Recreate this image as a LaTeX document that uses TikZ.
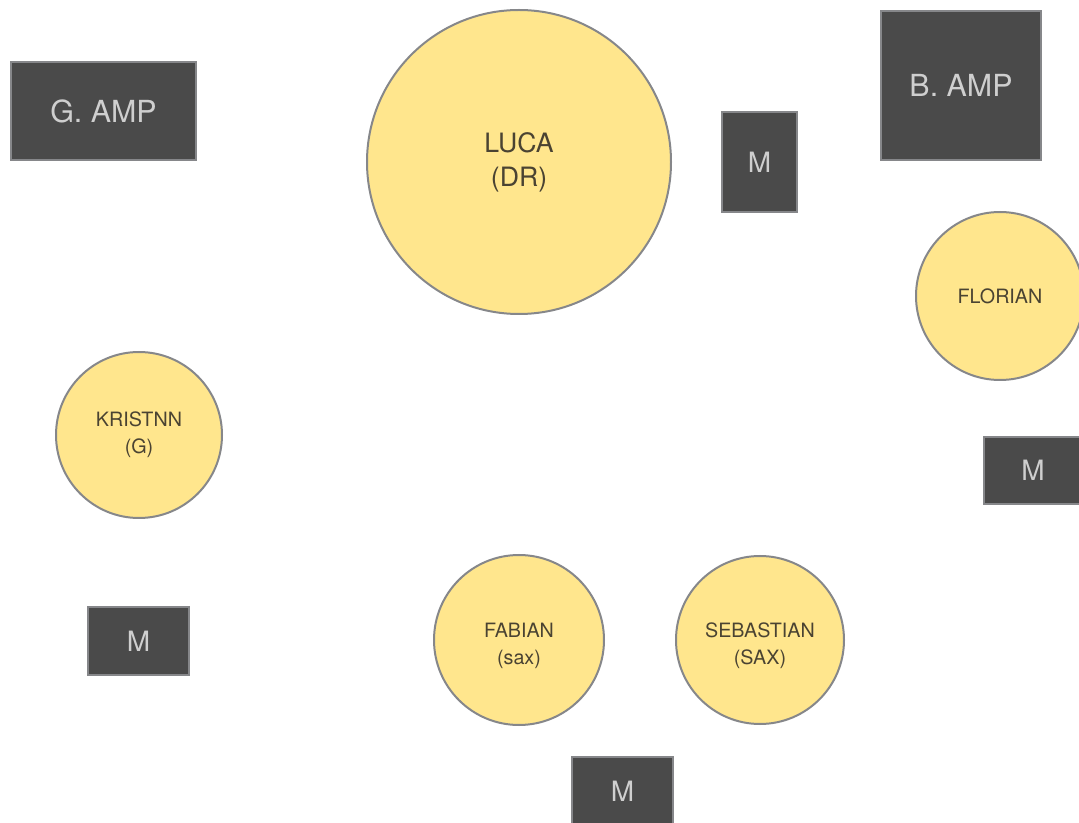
\documentclass[tikz,border=0pt]{standalone}
\usepackage{fontspec}
\setmainfont{TeX Gyre Heros}
\definecolor{boxfill}{HTML}{4A4A4A}
\definecolor{edge}{HTML}{86878A}
\definecolor{boxtext}{HTML}{CFCFCF}
\definecolor{person}{HTML}{FFE68D}
\definecolor{persontext}{HTML}{4A4332}
\begin{document}
\begin{tikzpicture}[x=0.75pt,y=-0.75pt,
  gear/.style={draw=edge,line width=1.5pt,fill=boxfill,text=boxtext,rectangle,inner sep=0pt},
  big/.style={font=\fontsize{22.8pt}{26pt}\selectfont},
  mon/.style={gear,font=\fontsize{21pt}{25pt}\selectfont},
  player/.style={draw=edge,line width=1.5pt,fill=person,text=persontext,circle,inner sep=0pt,align=center,font=\fontsize{14.8pt}{20pt}\selectfont}]
\useasboundingbox (0,0) rectangle (1079,823);
\clip (0,0) rectangle (1079,823);
% amps
\node[gear,big,minimum width=138.75pt,minimum height=73.5pt] (gamp) at (103.5,111) {G. AMP};
\node[gear,big,minimum width=120pt,minimum height=111.75pt] (bamp) at (961,85.5) {B. AMP};
% monitors
\node[mon,minimum width=56.25pt,minimum height=75pt] (m1) at (759.5,162) {M};
\node[mon,minimum width=73.5pt,minimum height=50.25pt] (m2) at (1033,470.5) {M};
\node[mon,minimum width=75.75pt,minimum height=51pt] (m3) at (138.5,641) {M};
\node[mon,minimum width=75.75pt,minimum height=51pt] (m4) at (622.5,791) {M};
% players
\node[player,minimum size=228pt,font=\fontsize{20pt}{25.5pt}\selectfont] (luca) at (519,162) {LUCA\\(DR)};
\node[player,minimum size=126pt] (florian) at (1000,296) {FLORIAN};
\node[player,minimum size=124.5pt] (kristnn) at (139,435) {KRISTNN\\(G)};
\node[player,minimum size=127.5pt] (fabian) at (519,640) {};
\node[player,minimum size=126pt] (sebastian) at (760,640) {};
\node[player,draw=none,fill=none] (fabiantext) at ([yshift=-4.5pt]fabian.center) {FABIAN\\(sax)};
\node[player,draw=none,fill=none] (sebastiantext) at ([yshift=-4.5pt]sebastian.center) {SEBASTIAN\\(SAX)};
\end{tikzpicture}
\end{document}
